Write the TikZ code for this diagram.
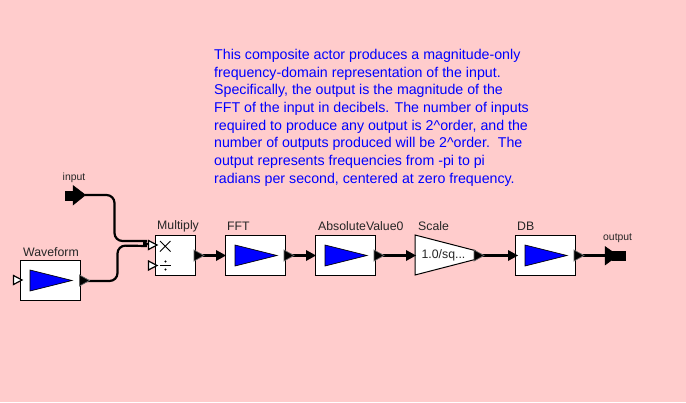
\documentclass[tikz,border=0pt]{standalone}
\usepackage{fontspec}
\setmainfont{Liberation Sans}
\tikzset{
  x=1pt,y=-1pt,
  actor/.style={draw=black,fill=white,line width=1pt,minimum width=60pt,minimum height=40pt,inner sep=0pt,outer sep=0pt},
  lab/.style={anchor=base west,inner sep=0pt,font=\fontsize{12.3}{13}\selectfont,text=black!85},
  smalllab/.style={anchor=base west,inner sep=0pt,font=\fontsize{10.4}{11}\selectfont,text=black!85},
  play/.style={draw=black,fill=blue,line width=.7pt},
  wire/.style={draw=black,line width=2.2pt,rounded corners=8pt},
  inport/.style={draw=black,fill=white,line width=1.2pt,line join=miter},
  outport/.style={draw=black!60,fill=black,line width=.7pt},
  extport/.style={draw=black,fill=black,line width=.5pt},
  head/.style={fill=black}
}
\newcommand{\outtri}[2]{\path[outport] (#1,#2-5.5) -- (#1+10,#2) -- (#1,#2+5.5) -- cycle;}
\newcommand{\intri}[2]{\path[inport] (#1,#2-4.5) -- (#1+8.5,#2) -- (#1,#2+4.5) -- cycle;}
\newcommand{\headtri}[2]{\path[head] (#1-10,#2-5.5) -- (#1,#2) -- (#1-10,#2+5.5) -- cycle;}
\begin{document}
\begin{tikzpicture}
\useasboundingbox (0,0) rectangle (686,402);
\fill[fill={rgb,255:red,255;green,204;blue,204}] (0,0) rectangle (686,402);
% description
\node[anchor=north west,inner sep=0pt,text=blue,align=left,font=\fontsize{14.2}{17.7}\selectfont] (desc) at (214,49) {This composite actor produces a magnitude-only\\
frequency-domain representation of the input.\\
Specifically, the output is the magnitude of the\\
FFT of the input in decibels. The number of inputs\\
required to produce any output is 2\^{}order, and the\\
number of outputs produced will be 2\^{}order.\ \ The\\
output represents frequencies from -pi to pi\\
radians per second, centered at zero frequency.};
% actors
\node[actor] (wave) at (50.5,280) {};
\node[actor,minimum width=40pt] (mult) at (175,255) {};
\node[actor] (fft) at (255,255) {};
\node[actor] (abs) at (345,255) {};
\node[actor] (db) at (545,255) {};
\path[draw=black,fill=white,line width=1pt] (415,235) -- (475,250.5) -- (475,259.5) -- (415,275) -- cycle;
\node[inner sep=0pt,font=\fontsize{12.3}{13}\selectfont,text=black!85] (scale) at (443.5,255.5) {1.0/sq...};
% play triangles
\foreach \x/\y in {30/270,235/245,325/245,525/245}
  \path[play] (\x,\y) -- (\x+42,\y+10.5) -- (\x,\y+21) -- cycle;
% multiply symbols
\draw[black,line width=.8pt] (160,241) -- (170.5,251.5) (170.5,241) -- (160,251.5);
\draw[black,line width=1pt] (160,265.5) -- (171,265.5);
\fill[black] (165.5,261.5) circle (1.2) (165.5,269.5) circle (1.2);
% labels
\node[lab] (lwave) at (23,256) {Waveform};
\node[lab] (lmult) at (157,229) {Multiply};
\node[lab] (lfft) at (227,230) {FFT};
\node[lab] (labs) at (318,230) {AbsoluteValue0};
\node[lab] (lscale) at (418,230) {Scale};
\node[lab] (ldb) at (517,230) {DB};
\node[smalllab] (linput) at (62.5,180) {input};
\node[smalllab] (loutput) at (603,240) {output};
% connection points
\coordinate (inA) at (85,195);
\coordinate (inB) at (147,241);
\coordinate (waveOut) at (87,281);
\coordinate (multA) at (147,246);
\coordinate (multOut) at (203,255.5);
\coordinate (fftIn) at (217,255.5);
\coordinate (fftOut) at (292,255.5);
\coordinate (absIn) at (307,255.5);
\coordinate (absOut) at (383,255.5);
\coordinate (scaleIn) at (407,255.5);
\coordinate (scaleOut) at (482,255.5);
\coordinate (dbIn) at (508,255.5);
\coordinate (dbOut) at (583,255.5);
\coordinate (outP) at (606,255.5);
% wires
\draw[wire] (inA) -| (114.5,241) -- (inB);
\draw[wire] (waveOut) -| (117.5,245.5) -- (multA);
\draw[wire] (multOut) -- (fftIn);
\draw[wire] (fftOut) -- (absIn);
\draw[wire] (absOut) -- (scaleIn);
\draw[wire] (scaleOut) -- (dbIn);
\draw[wire] (dbOut) -- (outP);
% ports
\intri{13.5}{280}
\intri{148.5}{245}
\intri{148.5}{265.5}
\outtri{79.5}{280.5}
\outtri{194}{255.5}
\outtri{284}{255.5}
\outtri{374}{255.5}
\outtri{474}{255.5}
\outtri{574}{255.5}
\headtri{226}{255.5}
\headtri{316}{255.5}
\headtri{416}{255.5}
\headtri{518}{255.5}
\path[fill=black] (143,240) -- (149,244) -- (143,247) -- cycle;
% external ports
\path[fill=black] (64.5,191) rectangle (75,200.5);
\path[extport] (73,185.5) -- (85.5,195) -- (73,205) -- cycle;
\path[fill=black] (612,250.5) rectangle (626,260.5);
\path[extport] (605,246.5) -- (618,255.5) -- (605,265) -- cycle;
\end{tikzpicture}
\end{document}
